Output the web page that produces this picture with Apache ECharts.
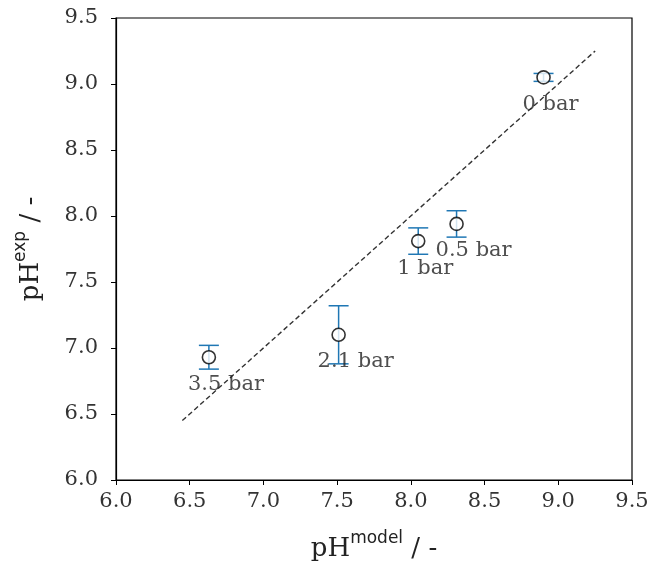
<!DOCTYPE html>
<html><head><meta charset="utf-8">
<script src="https://cdn.jsdelivr.net/npm/echarts@6/dist/echarts.min.js"></script>
<style>html,body{margin:0;padding:0;background:#fff}#c{width:654px;height:567px}</style>
</head><body><div id="c"></div>
<script>
const labels = ['0 bar', '0.5 bar', '1 bar', '2.1 bar', '3.5 bar'];
const pHModel = [8.90, 8.31, 8.05, 7.51, 6.63];
const pHExp = [9.05, 7.94, 7.81, 7.10, 6.93];
const pHErr = [0.03, 0.10, 0.10, 0.22, 0.09];
const parityLine = [[6.45, 6.45], [9.25, 9.25]];
const xTicks = [6.0, 9.5, 0.5];
const yTicks = [6.0, 9.5, 0.5];

const font = 'DejaVu Serif';
const chart = echarts.init(document.getElementById('c'), null, {renderer: 'canvas'});

const errData = pHModel.map((x, i) => [x, pHExp[i] - pHErr[i], pHExp[i] + pHErr[i]]);
const ptData = pHModel.map((x, i) => ({value: [x, pHExp[i]], name: labels[i]}));

const axisCommon = {
  type: 'value',
  axisLine: {show: true, onZero: false, lineStyle: {color: '#000', width: 1.2}},
  axisTick: {show: true, inside: false, length: 5, lineStyle: {color: '#000', width: 1}},
  splitLine: {show: false},
  axisLabel: {color: '#333', fontFamily: font, fontSize: 21, formatter: v => v.toFixed(1)}
};
const titleRich = {
  b: {fontFamily: font, fontSize: 26, color: '#222', verticalAlign: 'bottom', lineHeight: 32},
  s: {fontFamily: 'DejaVu Sans', fontSize: 17, color: '#222', verticalAlign: 'top', lineHeight: 17}
};

chart.setOption({
  animation: false,
  backgroundColor: '#fff',
  grid: {left: 116, top: 18, right: 22, bottom: 86, show: true, borderColor: '#000', borderWidth: 1.2, backgroundColor: 'transparent'},
  xAxis: Object.assign({}, axisCommon, {
    min: xTicks[0], max: xTicks[1], interval: xTicks[2],
    axisLabel: Object.assign({}, axisCommon.axisLabel, {margin: 11}),
    name: '{b|pH}{s|model}{b| / -}', nameLocation: 'middle', nameGap: 50,
    nameTextStyle: {rich: titleRich}
  }),
  yAxis: Object.assign({}, axisCommon, {
    min: yTicks[0], max: yTicks[1], interval: yTicks[2],
    axisLabel: Object.assign({}, axisCommon.axisLabel, {margin: 18}),
    name: '{b|pH}{s|exp}{b| / -}', nameLocation: 'middle', nameGap: 72, nameRotate: 90,
    nameTextStyle: {rich: titleRich}
  }),
  series: [
    {
      type: 'line', data: parityLine, showSymbol: false, symbol: 'none',
      lineStyle: {color: '#333', width: 1.4, type: [5, 3]}, z: 1
    },
    {
      type: 'custom', data: errData, z: 2,
      renderItem: function (params, api) {
        const x = api.value(0);
        const lo = api.coord([x, api.value(1)]);
        const hi = api.coord([x, api.value(2)]);
        const hw = 10;
        const st = {stroke: '#1f77b4', lineWidth: 1.5};
        return {type: 'group', children: [
          {type: 'line', shape: {x1: lo[0], y1: lo[1], x2: hi[0], y2: hi[1]}, style: st},
          {type: 'line', shape: {x1: lo[0] - hw, y1: lo[1], x2: lo[0] + hw, y2: lo[1]}, style: st},
          {type: 'line', shape: {x1: hi[0] - hw, y1: hi[1], x2: hi[0] + hw, y2: hi[1]}, style: st}
        ]};
      }
    },
    {
      type: 'scatter', data: ptData, symbol: 'circle', symbolSize: 13, z: 3,
      itemStyle: {color: '#fff', borderColor: '#000', borderWidth: 1.6},
      label: {show: true, formatter: p => p.name, position: 'inside', align: 'left', verticalAlign: 'middle',
        offset: [-21, 27], fontFamily: font, fontSize: 21, color: '#222'}
    }
  ]
});
</script></body></html>
